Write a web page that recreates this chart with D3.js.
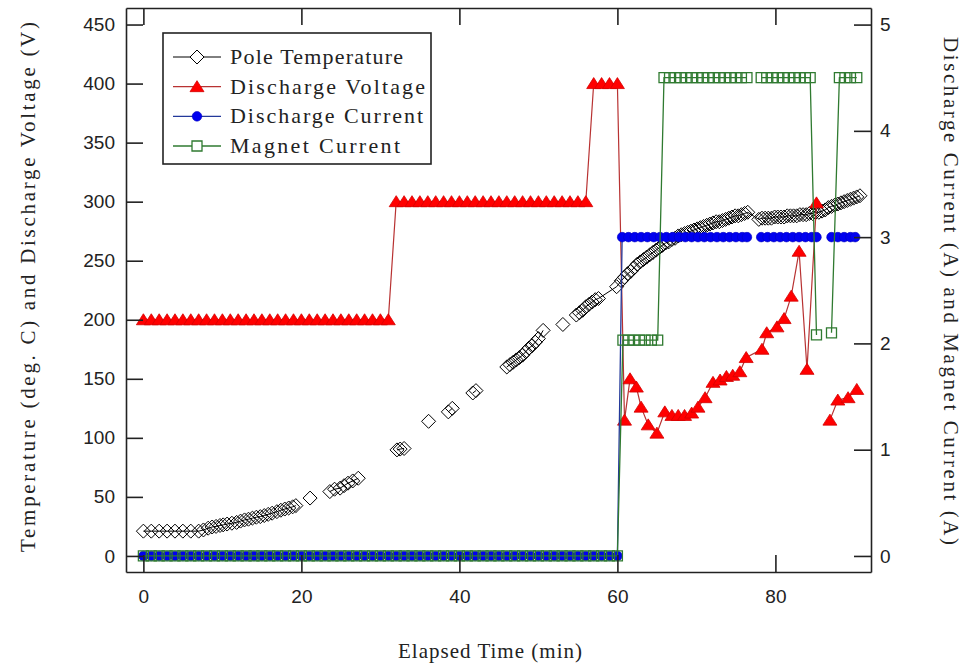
<!DOCTYPE html>
<html>
<head>
<meta charset="utf-8">
<script src="https://cdn.jsdelivr.net/npm/d3@7"></script>
<style>
body { margin:0; background:#fff; }
svg { display:block; }
.tick text { font-family:"Liberation Sans", Arial, sans-serif; font-size:19px; fill:#222; }
.ttl { font-family:"Liberation Serif", "Times New Roman", serif; fill:#222; }
</style>
</head>
<body>
<div id="chart"></div>
<script>

// ---------- data ----------

// whole minutes 0..60, shared by the three electrical traces
var baseMinutes = [0,1,2,3,4,5,6,7,8,9,10,11,12,13,14,15,16,17,18,19,20,
  21,22,23,24,25,26,27,28,29,30,31,32,33,34,35,36,37,38,39,40,
  41,42,43,44,45,46,47,48,49,50,51,52,53,54,55,56,57,58,59,60]

// pole temperature (deg C), left axis -- logged in bursts, null = break in the trace
var poleTime = [0,1,2,3,4,5,6,7,
  7.6,8.2,8.7,9.2,9.7,10.1,10.6,11.2,11.8,12.3,12.8,13.3,13.8,14.3,14.8,15.3,15.8,16.3,16.9,17.4,17.9,18.4,18.9,19.3,
  20.2, 21.1, 22.4,
  23.6,24.2,24.9,25.4,25.9,26.5,27.2, 29.6,
  32.1,32.5,33, 34.5, 36.1, 37.3, 38.6,39.1, 40.4, 41.7,42.1, 44,
  46,46.4,46.8,47.2,47.6,48,48.4,48.8,49.2,49.6,50,50.6, 51.8, 53.1, 54,
  54.8,55.2,55.6,56,56.4,56.8,57.2,57.6,59.9,
  60.5,60.9,61.3,61.7,62.1,62.5,62.9,63.3,63.7,64.1,
  64.5,64.9,65.3,65.7,66.1,66.5,66.9,67.3,67.7,68.1,
  68.5,68.9,69.3,69.7,70.1,70.5,70.9,71.3,71.7,72.1,
  72.5,72.9,73.3,73.7,74.1,74.5,74.9,75.3,75.7,76.1,76.5,
  77.9,78.3,78.7,79.1,79.5,79.9,80.3,80.7,81.1,81.5,
  81.9,82.3,82.7,83.1,83.5,83.9,84.3,84.7,85.1,85.5,
  85.9,86.3,86.7,87.1,87.5,87.9,88.3,88.7,89.1,89.5,
  89.9,90.3,90.7]
var poleTemp = [21,21,21,21,21,21,21,21,
  22,23.5,24.5,25,25.8,26.3,27,27.7,28.4,29.5,30.5,31.1,32,32.8,33.3,34.2,35.2,36.2,37.5,38.7,39.7,40.6,41.6,42.6,
  null, 49, null,
  54.5,56.5,57.4,59.5,61.6,63.5,65.8, null,
  89.8,90.5,91, null, 114, null, 122,125, null, 138,140, null,
  160,162,164,166,168,170,173,176,178,181,184,191, null, 196, null,
  204,206,208,211,213,215,217,218,228,
  233,236,239,241,244,247,249,251,253,255,
  257,259,261,263,265,266,268,269,271,272,
  273,274,275,276,277,278,279,280,281,282,
  283,283,284,285,286,287,288,288,289,290,291,
  285,286,286,286,286,287,287,287,287,288,
  288,288,288,289,289,289,290,290,291,291,
  292,293,295,296,297,298,299,300,301,302,
  303,304,305]

// discharge voltage (V), left axis
var voltAfterTime = [60.9,61.6,62.4,63,63.9,65,66,66.9,67.7,68.5,69.4,70.2,71.1,72.1,73,73.8,
  74.6,75.5,76.3,78.3,78.9,80.2,81.1,82,83,84,85.2,86,86.9,87.9,89.2,90.3]
var voltage = [200,200,200,200,200,200,200,200,200,200,
  200,200,200,200,200,200,200,200,200,200,
  200,200,200,200,200,200,200,200,200,200,
  200,200,
  300,300,300,300,300,300,300,300,300,300,
  300,300,300,300,300,300,300,300,300,300,
  300,300,300,300,300,
  400,400,400,400,
  115,150,143,126,111,104,122,119,119,119,121,126,134,147,149,152,
  153,156,168,175,189,194,201,220,258,158,299,null,115,132,134,141]

// discharge current (A), right axis
var currAfterTime = [60.6,61.4,62.2,63,63.8,64.6,65.4,66.2,67,67.8,68.6,69.4,70.2,71,71.8,72.6,73.4,74.2,75,75.8,76.4,
  77.3,78.2,79,79.8,80.6,81.4,82.2,83,83.8,84.6,85.2,86,87.1,87.9,88.7,89.5,90.1]
var dischargeCurrent = [0,0,0,0,0,0,0,0,0,0, 0,0,0,0,0,0,0,0,0,0,
  0,0,0,0,0,0,0,0,0,0, 0,0,0,0,0,0,0,0,0,0,
  0,0,0,0,0,0,0,0,0,0, 0,0,0,0,0,0,0,0,0,0, 0,
  3,3,3,3,3,3,3,3,3,3,3,3,3,3,3,3,3,3,3,3,3,
  null,3,3,3,3,3,3,3,3,3,3,null,3,3,3,3,3]

// magnet current (A), right axis
var magAfterTime = [60.7,61.4,62.1,62.8,63.5,64.3,65.1,
  65.9,66.6,67.3,68,68.7,69.4,70.1,70.8,71.5,72.2,72.9,73.6,74.3,75,75.7,76.4,
  77.3,78.2,78.9,79.6,80.3,81,81.7,82.4,83.1,83.8,84.4,
  85.2,86,87.1,88.1,88.8,89.5,90.3]
var magnetCurrent = [0,0,0,0,0,0,0,0,0,0, 0,0,0,0,0,0,0,0,0,0,
  0,0,0,0,0,0,0,0,0,0, 0,0,0,0,0,0,0,0,0,0,
  0,0,0,0,0,0,0,0,0,0, 0,0,0,0,0,0,0,0,0,0, 0,
  2.03,2.03,2.03,2.03,2.03,2.03,2.03,
  4.5,4.5,4.5,4.5,4.5,4.5,4.5,4.5,4.5,4.5,4.5,4.5,4.5,4.5,4.5,4.5,
  null,4.5,4.5,4.5,4.5,4.5,4.5,4.5,4.5,4.5,4.5,
  2.08,null,2.1,4.5,4.5,4.5,4.5]

var xTicks = [0,20,40,60,80]
var leftTicks = [0,50,100,150,200,250,300,350,400,450]
var rightTicks = [0,1,2,3,4,5]

var legendNames = ["Pole Temperature","Discharge Voltage","Discharge Current","Magnet Current"]


// ---------- drawing ----------

var W = 965, H = 669
var L = 126, R = 871, T = 8, B = 572

var svg = d3.select('#chart').append('svg')
  .attr('width', W)
  .attr('height', H)

var x = d3.scaleLinear().domain([-2.2, 92.1]).range([L, R])
var yL = d3.scaleLinear().domain([-13.6, 464]).range([B, T])
var yR = d3.scaleLinear().domain([-0.151, 5.156]).range([B, T])

function pairs(ts, vs) {
  return ts.map(function(t, i) { return {t: t, v: vs[i]} })
}

var pole = pairs(poleTime, poleTemp)
var volt = pairs(baseMinutes.concat(voltAfterTime), voltage)
var curr = pairs(baseMinutes.concat(currAfterTime), dischargeCurrent)
var mag  = pairs(baseMinutes.concat(magAfterTime), magnetCurrent)

// marker shapes
var diamond = 'M0,-7L7,0L0,7L-7,0Z'
var triangle = 'M0,-6L7,5L-7,5Z'
var square = 'M-5,-5H5V5H-5Z'

var series = [
  {data: pole, y: yL, line: '#000', lw: 1, shape: diamond, fill: 'none', stroke: '#000', sw: 1},
  {data: volt, y: yL, line: '#b83232', lw: 1.2, shape: triangle, fill: '#ff0000', stroke: '#d40000', sw: 0.8},
  {data: curr, y: yR, line: '#23389a', lw: 1.3, shape: 'circle', fill: '#0000f0', stroke: '#0000c0', sw: 0.6},
  {data: mag,  y: yR, line: '#2f7a30', lw: 1.3, shape: square, fill: 'none', stroke: '#2f7a30', sw: 1.3}
]

var plot = svg.append('g')

series.forEach(function(s) {
  var ln = d3.line()
    .defined(function(d) { return d.v != null })
    .x(function(d) { return x(d.t) })
    .y(function(d) { return s.y(d.v) })

  plot.append('path')
    .datum(s.data)
    .attr('d', ln)
    .attr('fill', 'none')
    .attr('stroke', s.line)
    .attr('stroke-width', s.lw)

  var pts = s.data.filter(function(d) { return d.v != null })
  if (s.shape == 'circle') {
    plot.selectAll(null).data(pts).enter().append('circle')
      .attr('cx', function(d) { return x(d.t) })
      .attr('cy', function(d) { return s.y(d.v) })
      .attr('r', 4.8)
      .attr('fill', s.fill)
      .attr('stroke', s.stroke)
      .attr('stroke-width', s.sw)
  } else {
    plot.selectAll(null).data(pts).enter().append('path')
      .attr('d', s.shape)
      .attr('transform', function(d) { return 'translate(' + x(d.t) + ',' + s.y(d.v) + ')' })
      .attr('fill', s.fill)
      .attr('stroke', s.stroke)
      .attr('stroke-width', s.sw)
  }
})

// axes, ticks pointing inward
var tk = 17
svg.append('g').attr('transform', 'translate(0,' + B + ')')
  .call(d3.axisBottom(x).tickValues(xTicks).tickSizeInner(-tk).tickSizeOuter(0).tickPadding(18))
svg.append('g').attr('transform', 'translate(0,' + T + ')')
  .call(d3.axisTop(x).tickValues(xTicks).tickSizeInner(-tk).tickSizeOuter(0).tickFormat(''))
svg.append('g').attr('transform', 'translate(' + L + ',0)')
  .call(d3.axisLeft(yL).tickValues(leftTicks).tickSizeInner(-tk).tickSizeOuter(0).tickPadding(11))
svg.append('g').attr('transform', 'translate(' + R + ',0)')
  .call(d3.axisRight(yR).tickValues(rightTicks).tickFormat(d3.format('d'))
    .tickSizeInner(-tk).tickSizeOuter(0).tickPadding(9))

svg.selectAll('.domain, .tick line')
  .attr('stroke', '#222')
  .attr('stroke-width', 1.6)

// axis titles
svg.append('text').attr('class', 'ttl')
  .attr('x', 490).attr('y', 658)
  .attr('text-anchor', 'middle')
  .attr('font-size', 21)
  .attr('textLength', 184).attr('lengthAdjust', 'spacing')
  .text('Elapsed Time (min)')

svg.append('text').attr('class', 'ttl')
  .attr('transform', 'translate(28,287) rotate(-90)')
  .attr('text-anchor', 'middle')
  .attr('dominant-baseline', 'central')
  .attr('font-size', 21)
  .attr('textLength', 530).attr('lengthAdjust', 'spacing')
  .text('Temperature (deg. C) and Discharge Voltage (V)')

svg.append('text').attr('class', 'ttl')
  .attr('transform', 'translate(951,291) rotate(90)')
  .attr('text-anchor', 'middle')
  .attr('dominant-baseline', 'central')
  .attr('font-size', 21)
  .attr('textLength', 508).attr('lengthAdjust', 'spacing')
  .text('Discharge Current (A) and Magnet Current (A)')

// legend
var leg = svg.append('g')
leg.append('rect')
  .attr('x', 163).attr('y', 33)
  .attr('width', 268).attr('height', 131)
  .attr('fill', '#fff')
  .attr('stroke', '#222')
  .attr('stroke-width', 1.6)

var legW = [173, 195, 193, 170]
var legY = d3.scalePoint().domain(legendNames).range([57, 146])

series.forEach(function(s, i) {
  var cy = legY(legendNames[i])
  leg.append('line')
    .attr('x1', 173).attr('x2', 221)
    .attr('y1', cy).attr('y2', cy)
    .attr('stroke', s.line)
    .attr('stroke-width', s.lw)
  if (s.shape == 'circle') {
    leg.append('circle').attr('cx', 197).attr('cy', cy).attr('r', 4.8)
      .attr('fill', s.fill).attr('stroke', s.stroke).attr('stroke-width', s.sw)
  } else {
    leg.append('path').attr('d', s.shape)
      .attr('transform', 'translate(197,' + cy + ')')
      .attr('fill', s.fill == 'none' ? '#fff' : s.fill)
      .attr('stroke', s.stroke).attr('stroke-width', s.sw)
  }
  leg.append('text').attr('class', 'ttl')
    .attr('x', 230).attr('y', cy + 7)
    .attr('font-size', 22)
    .attr('textLength', legW[i]).attr('lengthAdjust', 'spacing')
    .text(legendNames[i])
})

</script>
</body>
</html>
